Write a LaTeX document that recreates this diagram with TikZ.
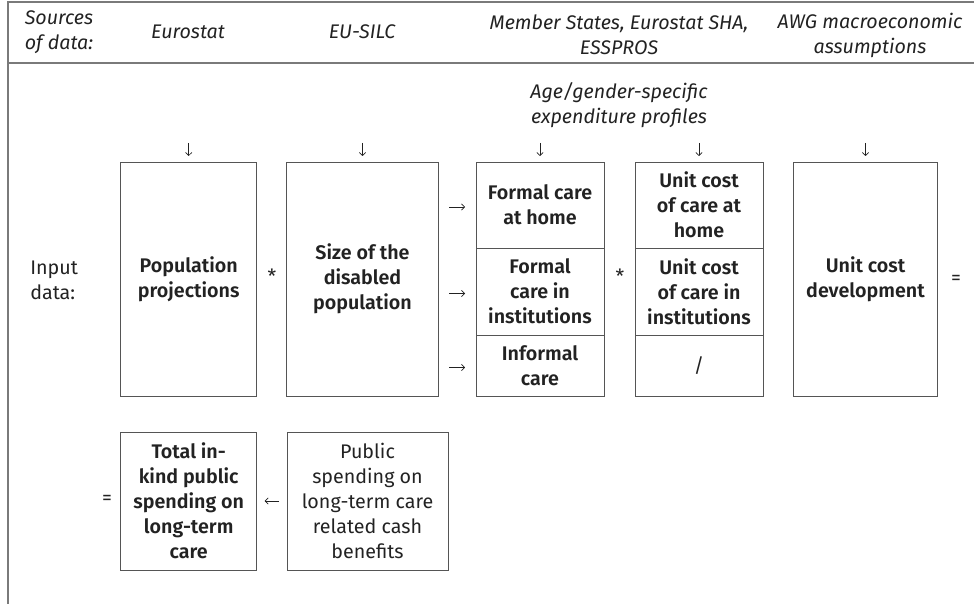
\documentclass[tikz,border=0pt]{standalone}
\usepackage{fontspec}
\setmainfont{Fira Sans}[BoldFont={Fira Sans SemiBold}]
\usetikzlibrary{positioning, arrows.meta, calc}
\definecolor{rulegray}{HTML}{7A7A7A}
\definecolor{boxgray}{HTML}{555555}
\definecolor{inkgray}{HTML}{222222}
\tikzset{
  box/.style={draw=boxgray, line width=0.6pt, inner sep=0pt, outer sep=0pt, align=center, font=\bfseries, text=inkgray},
  src/.style={align=center, font=\itshape, text=inkgray},
  sym/.style={text=inkgray, inner sep=0pt},
  arr/.style={draw=inkgray, line width=0.45pt, -{Straight Barb[length=2.2pt,width=4.5pt]}},
  frame/.style={draw=rulegray, line width=1pt}
}

\begin{document}
\begin{tikzpicture}[x=0.25mm, y=-0.25mm] \fontsize{14}{17.8}\selectfont
   \useasboundingbox (0,0) rectangle (974,604);
   \draw [frame] (8,604) -- (8,2) -- (974,2);      % outer rule
   \draw [frame] (8,63) -- (974,63);               % header rule
   % sources of data
   \node [src, align=left, anchor=west] (sources) at (18,32) {Sources\\of data:};
   \node [src] (eurostat) at (188,32) {Eurostat};
   \node [src] (silc) at (362,32) {EU-SILC};
   \node [src] (member) at (619,35) {Member States, Eurostat SHA,\\ESSPROS};
   \node [src] (awg) at (870,35) {AWG macroeconomic\\assumptions};
   \node [src] (profiles) at (619,105) {Age/gender-specific\\expenditure profiles};
   % input data
   \node [sym, align=left, anchor=west] (input) at (30,280) {Input\\data:};
   \node [box, minimum width=34mm, minimum height=58.5mm] (pop) at (188.7,279) {Population\\projections};
   \node [box, minimum width=37.9mm, minimum height=58.5mm] (size) at (362.5,279) {Size of the\\disabled\\population};
   \node [box, minimum width=32mm, minimum height=21.5mm, anchor=north] (home) at (540,162) {Formal care\\at home};
   \node [box, minimum width=32mm, minimum height=21.75mm, below=0pt of home] (inst) {Formal\\care in\\institutions};
   \node [box, minimum width=32mm, minimum height=15.25mm, below=0pt of inst] (informal) {Informal\\care};
   \node [box, minimum width=32mm, minimum height=21.5mm, anchor=north] (uhome) at (699,162) {Unit cost\\of care at\\home};
   \node [box, minimum width=32mm, minimum height=21.75mm, below=0pt of uhome] (uinst) {Unit cost\\of care in\\institutions};
   \node [box, minimum width=32mm, minimum height=15.25mm, below=0pt of uinst, font=\mdseries] (unone) {/};
   \node [box, minimum width=36.1mm, minimum height=58.5mm] (ucd) at (865.5,279) {Unit cost\\development};
   % result
   \node [box, minimum width=34mm, minimum height=34.5mm] (total) at (188.7,501) {Total in-\\kind public\\spending on\\long-term\\care};
   \node [box, minimum width=40.25mm, minimum height=34.5mm, font=\mdseries] (cash) at (367.5,501) {Public\\spending on\\long-term care\\related cash\\benefits};
   % operators
   \node [sym] (times1) at (272,276) {*};
   \node [sym] (times2) at (620,276) {*};
   \node [sym] (equals1) at (956,280) {=};
   \node [sym] (equals2) at (107,500) {=};
   \foreach \b in {pop,size,home,uhome,ucd}
      \draw [arr] ($(\b.north)+(0,-19)$) -- ($(\b.north)+(0,-6)$);   % source arrows
   \foreach \c in {home,inst,informal}
      \draw [arr] ($(\c.west)+(-27,2)$) -- ($(\c.west)+(-11,2)$);    % split arrows
   \draw [arr] ($(cash.west)+(-8,0)$) -- ($(total.east)+(8,0)$);    % cash arrow
\end{tikzpicture}
\end{document}
